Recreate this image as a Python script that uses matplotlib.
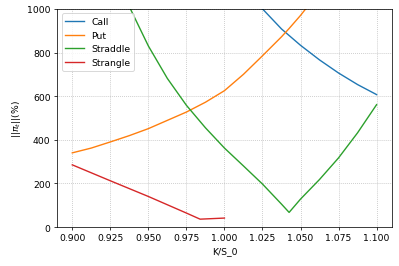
import numpy as np
import matplotlib
matplotlib.use('Agg')
import matplotlib.pyplot as plt

# K/S_0 grid and norms
k_main = [0.9, 0.9125, 0.925, 0.9375, 0.95, 0.9625, 0.975, 0.9875, 1.0,
          1.0125, 1.025, 1.0375, 1.0425, 1.05, 1.0625, 1.075, 1.0875, 1.1]
call = [3010, 2680, 2385, 2125, 1895, 1694, 1517, 1362, 1225,
        1105, 1000, 908, 878, 833, 766, 706, 653, 607]
put = [340, 362, 390, 419, 451, 489, 527, 572, 625,
       700, 785, 872, 910, 970, 1080, 1200, 1335, 1480]
straddle = [1770, 1480, 1225, 1010, 830, 681, 558, 455, 362,
            280, 197, 105, 67, 128, 218, 317, 432, 561]

k_strangle = [0.9, 0.925, 0.95, 0.975, 0.984, 1.0]
strangle = [285, 212, 140, 64, 36, 41]

fig = plt.figure(figsize=(6.0, 4.015), dpi=66.5)
ax = fig.add_axes([0.143, 0.146, 0.839, 0.817])

ax.plot(k_main, call, label='Call')
ax.plot(k_main, put, label='Put')
ax.plot(k_main, straddle, label='Straddle')
ax.plot(k_strangle, strangle, label='Strangle')

ax.set_ylim(0, 1000)
ax.set_xlim(0.89, 1.11)
ax.set_xlabel('K/S_0')
ax.set_ylabel(r'$||\pi_t||$(%)')
ax.grid(True, linestyle=':')
ax.legend(loc='upper left')

fig.savefig('out.png', dpi=66.5)
